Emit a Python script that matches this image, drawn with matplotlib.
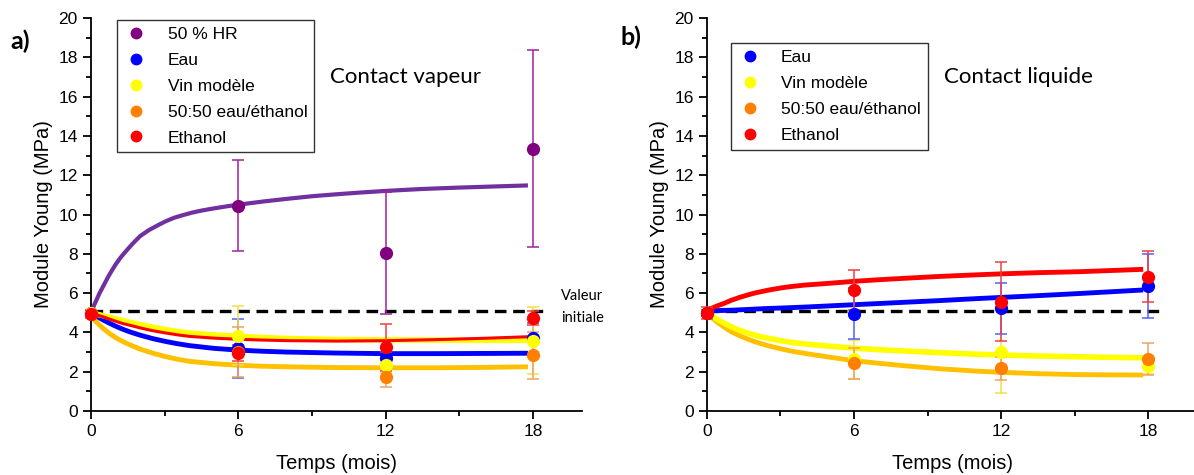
import matplotlib
matplotlib.use("Agg")
import matplotlib.pyplot as plt
from matplotlib.lines import Line2D
from matplotlib.ticker import MultipleLocator

plt.rcParams['font.family'] = ['Liberation Sans', 'DejaVu Sans']

# ---------------- data ----------------
months = [0, 6, 12, 18]
initial_value = 5.1

# panel a : contact vapeur  (mean, error)
a_hr = [5.0, 10.45, 8.06, 13.35]
a_hr_err = [0.15, 2.3, 3.1, 5.0]
a_eau = [5.0, 3.2, 2.68, 3.7]
a_eau_err = [0.15, 1.5, 0.3, 0.8]
a_vin = [5.0, 3.83, 2.34, 3.58]
a_vin_err = [0.15, 1.5, 0.4, 1.7]
a_mix = [4.95, 3.0, 1.71, 2.83]
a_mix_err = [0.15, 1.28, 0.47, 1.2]
a_eth = [4.95, 2.97, 3.24, 4.75]
a_eth_err = [0.2, 0.4, 1.2, 0.35]

# panel a fitted curves
a_fit_t = [0, 0.15, 0.35, 0.5, 0.7, 0.85, 1.0, 1.2, 1.4, 1.7, 2.0, 2.35, 2.75, 3.05,
           3.4, 3.75, 4.1, 4.5, 5.0, 5.5, 6, 7, 8, 9, 10, 11, 12, 13.5, 15, 16.5, 17.8]
a_fit_hr = [5.0, 5.45, 6.0, 6.35, 6.83, 7.15, 7.45, 7.8, 8.1, 8.52, 8.9, 9.2, 9.47, 9.66,
            9.84, 9.97, 10.09, 10.2, 10.31, 10.41, 10.5, 10.66, 10.8, 10.93, 11.03, 11.12,
            11.2, 11.3, 11.37, 11.43, 11.48]
a_fit_t2 = [0, 0.15, 0.3, 0.5, 0.75, 1, 1.3, 1.6, 2, 2.5, 3, 3.5, 4, 5, 6, 7, 8, 10,
            12, 14, 16, 17.8]
a_fit_mix = [4.85, 4.62, 4.43, 4.2, 3.95, 3.74, 3.53, 3.36, 3.15, 2.95, 2.78, 2.64, 2.53,
             2.41, 2.33, 2.28, 2.25, 2.21, 2.2, 2.2, 2.22, 2.25]
a_fit_eau = [5.0, 4.88, 4.77, 4.63, 4.47, 4.32, 4.16, 4.02, 3.86, 3.69, 3.55, 3.43, 3.33,
             3.19, 3.1, 3.04, 3.0, 2.95, 2.92, 2.92, 2.93, 2.94]
a_fit_vin = [5.0, 4.96, 4.91, 4.85, 4.77, 4.7, 4.6, 4.51, 4.4, 4.27, 4.15, 4.05, 3.97,
             3.87, 3.8, 3.74, 3.69, 3.64, 3.62, 3.61, 3.6, 3.6]
a_fit_eth = [5.0, 4.93, 4.87, 4.79, 4.68, 4.57, 4.45, 4.36, 4.23, 4.09, 3.98, 3.88, 3.8,
             3.71, 3.65, 3.61, 3.58, 3.56, 3.58, 3.63, 3.7, 3.78]

# panel b : contact liquide
b_eau = [5.0, 4.94, 5.23, 6.36]
b_eau_err = [0.15, 1.3, 1.3, 1.65]
b_vin = [5.0, 2.63, 3.02, 2.31]
b_vin_err = [0.15, 1.0, 2.1, 0.45]
b_mix = [5.0, 2.43, 2.17, 2.65]
b_mix_err = [0.15, 0.8, 0.6, 0.8]
b_eth = [5.0, 6.16, 5.56, 6.83]
b_eth_err = [0.3, 1.0, 2.0, 1.3]

b_fit_t = [0, 0.2, 0.4, 0.7, 1.0, 1.35, 1.7, 2.0, 2.5, 3.0, 3.4, 4, 5, 6, 7, 8, 9.5,
           11, 12, 13.5, 15.2, 16.5, 17.8]
b_fit_eth = [5.14, 5.24, 5.34, 5.48, 5.64, 5.79, 5.92, 6.02, 6.15, 6.26, 6.33, 6.41, 6.5,
             6.6, 6.68, 6.75, 6.85, 6.93, 6.98, 7.04, 7.09, 7.15, 7.21]
b_fit_eau = [5.1, 5.1, 5.11, 5.12, 5.13, 5.15, 5.17, 5.19, 5.22, 5.24, 5.26, 5.29, 5.35,
             5.41, 5.47, 5.53, 5.62, 5.72, 5.78, 5.87, 5.98, 6.07, 6.16]
b_fit_vin = [5.0, 4.84, 4.68, 4.47, 4.28, 4.1, 3.95, 3.84, 3.7, 3.58, 3.5, 3.41, 3.3,
             3.2, 3.12, 3.06, 2.97, 2.89, 2.85, 2.8, 2.76, 2.73, 2.71]
b_fit_mix = [5.0, 4.76, 4.54, 4.27, 4.03, 3.82, 3.64, 3.51, 3.32, 3.17, 3.06, 2.93, 2.74,
             2.56, 2.43, 2.31, 2.15, 2.03, 1.97, 1.9, 1.85, 1.84, 1.83]

labels_a = ['50 % HR', 'Eau', 'Vin modèle', '50:50 eau/éthanol', 'Ethanol']
labels_b = ['Eau', 'Vin modèle', '50:50 eau/éthanol', 'Ethanol']

C_HR, C_HRFIT = '#800080', '#7030A0'
C_EAU = '#0000FF'
C_VIN = '#FFFF00'
C_MIX, C_MIXFIT = '#FF8000', '#FFC000'
C_ETH = '#FF0000'

fig = plt.figure(figsize=(11.94, 4.75), dpi=100)
ax_a = fig.add_axes([0.0762, 0.1347, 0.4112, 0.8274])
ax_b = fig.add_axes([0.5921, 0.1347, 0.4105, 0.8274])


def style(ax):
    ax.set_xlim(0, 20)
    ax.set_ylim(0, 20)
    for s in ['top', 'right']:
        ax.spines[s].set_visible(False)
    for s in ['left', 'bottom']:
        ax.spines[s].set_linewidth(1.3)
    ax.set_xticks(months)
    ax.xaxis.set_minor_locator(MultipleLocator(3))
    ax.yaxis.set_major_locator(MultipleLocator(2))
    ax.yaxis.set_minor_locator(MultipleLocator(1))
    ax.tick_params(which='major', direction='out', length=6, width=1.3, labelsize=12.5)
    ax.tick_params(which='minor', direction='out', length=3.5, width=1.3)
    ax.set_xlabel('Temps (mois)', fontsize=14.5, labelpad=11)
    ax.set_ylabel('Module Young (MPa)', fontsize=14.5, labelpad=4)
    ax.plot([0, 18.5], [initial_value, initial_value], color='black', lw=2.4,
            dashes=(3.5, 2), zorder=2)


def pts(ax, y, e, color, ecolor=None, z=5):
    ax.errorbar(months, y, yerr=e, fmt='o', color=color, ms=8.5, mec=color,
                ecolor=ecolor or color, elinewidth=1.1, capsize=4, capthick=1.1,
                zorder=z, clip_on=False)


style(ax_a)
ax_a.plot(a_fit_t, a_fit_hr, color=C_HRFIT, lw=3, zorder=3, solid_capstyle='butt')
ax_a.plot(a_fit_t2, a_fit_mix, color=C_MIXFIT, lw=3.5, zorder=3, solid_capstyle='butt')
ax_a.plot(a_fit_t2, a_fit_eau, color=C_EAU, lw=3.5, zorder=3, solid_capstyle='butt')
ax_a.plot(a_fit_t2, a_fit_vin, color=C_VIN, lw=4, zorder=3, solid_capstyle='butt')
ax_a.plot(a_fit_t2, a_fit_eth, color=C_ETH, lw=2.2, zorder=3, solid_capstyle='butt')
pts(ax_a, a_hr, a_hr_err, C_HR, '#A020A0')
pts(ax_a, a_eau, a_eau_err, C_EAU, '#5060FF')
pts(ax_a, a_vin, a_vin_err, C_VIN, '#F0E040')
pts(ax_a, a_mix, a_mix_err, C_MIX, '#F0A060')
pts(ax_a, a_eth, a_eth_err, C_ETH, '#F04040')
ax_a.text(12.8, 17.0, 'Contact vapeur', fontsize=16, family='Lato', ha='center', va='center')
ax_a.text(19.15, 5.3, 'Valeur\ninitiale', fontsize=10.5, family='Lato', ha='left', va='center',
          linespacing=1.75, clip_on=False)

h_a = [Line2D([], [], ls='none', marker='o', ms=7.5, color=c, mec=c)
       for c in [C_HR, C_EAU, C_VIN, C_MIX, C_ETH]]
leg_a = ax_a.legend(h_a, labels_a, loc='upper left', bbox_to_anchor=(0.05, 1.0),
                    fontsize=12.5, frameon=True, fancybox=False, edgecolor='black',
                    handlelength=1.4, handletextpad=1.1, labelspacing=0.62,
                    borderpad=0.4, borderaxespad=0.1)
leg_a.get_frame().set_linewidth(1.0)

style(ax_b)
ax_b.plot(b_fit_t, b_fit_mix, color=C_MIXFIT, lw=3.5, zorder=3, solid_capstyle='butt')
ax_b.plot(b_fit_t, b_fit_vin, color=C_VIN, lw=4, zorder=3, solid_capstyle='butt')
ax_b.plot(b_fit_t, b_fit_eau, color=C_EAU, lw=3.5, zorder=3, solid_capstyle='butt')
ax_b.plot(b_fit_t, b_fit_eth, color=C_ETH, lw=3.5, zorder=3, solid_capstyle='butt')
pts(ax_b, b_vin, b_vin_err, C_VIN, '#F0E040')
pts(ax_b, b_mix, b_mix_err, C_MIX, '#F0A060')
pts(ax_b, b_eau, b_eau_err, C_EAU, '#5060FF')
pts(ax_b, b_eth, b_eth_err, C_ETH, '#F04040')
ax_b.text(12.7, 17.0, 'Contact liquide', fontsize=16, family='Lato', ha='center', va='center')

h_b = [Line2D([], [], ls='none', marker='o', ms=7.5, color=c, mec=c)
       for c in [C_EAU, C_VIN, C_MIX, C_ETH]]
leg_b = ax_b.legend(h_b, labels_b, loc='upper left', bbox_to_anchor=(0.045, 0.94),
                    fontsize=12.5, frameon=True, fancybox=False, edgecolor='black',
                    handlelength=1.4, handletextpad=1.1, labelspacing=0.62,
                    borderpad=0.4, borderaxespad=0.1)
leg_b.get_frame().set_linewidth(1.0)

fig.text(0.009, 0.913, 'a)', fontsize=18, fontweight='bold', family='Lato', va='center')
fig.text(0.520, 0.922, 'b)', fontsize=18, fontweight='bold', family='Lato', va='center')

fig.savefig('out.png', dpi=100)
